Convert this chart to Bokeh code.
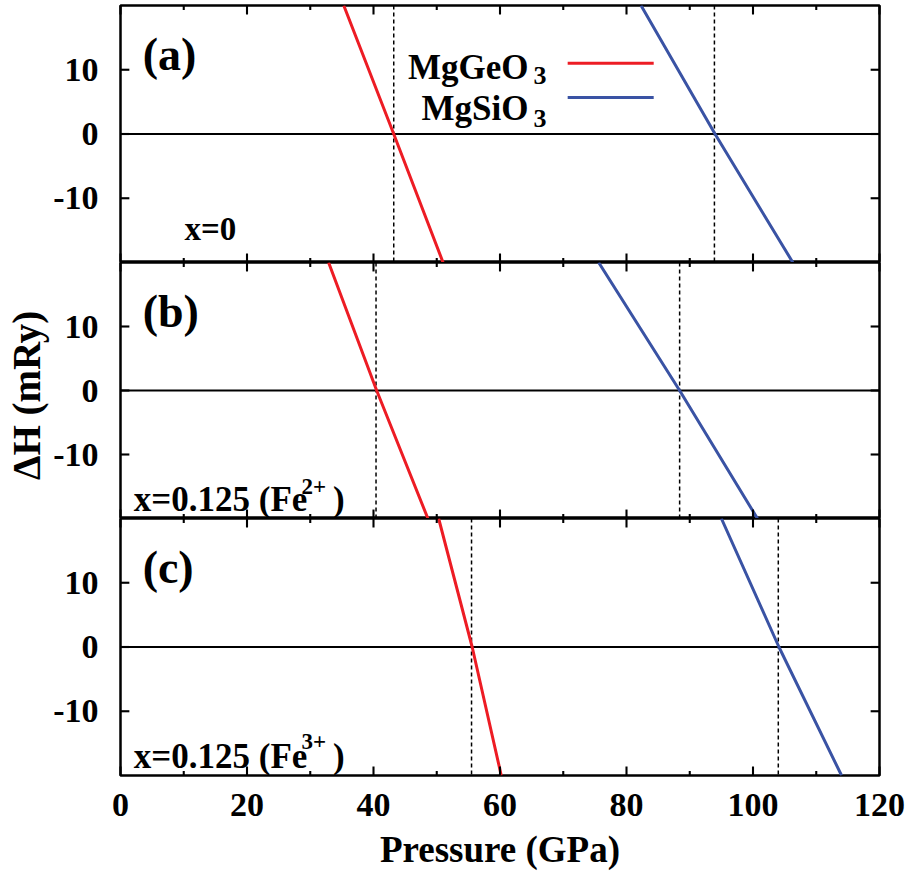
from bokeh.plotting import figure
from bokeh.layouts import column
from bokeh.models import FixedTicker, LinearAxis, Range1d, Span, Label
from bokeh.embed import file_html
from bokeh.resources import INLINE

FONT = "Liberation Serif"
RED = "#ED1C24"
BLUE = "#3A53A4"

# Enthalpy difference (mRy) at which each transition line is sampled
dh = [20, 0, -20]

# Pressure (GPa) along each line, x = 0
ge_x0 = [35.3, 43.2, 51.0]
si_x0 = [82.3, 94.0, 106.3]
# x = 0.125, Fe2+
ge_fe2 = [32.9, 40.5, 48.6]
si_fe2 = [75.6, 88.4, 100.7]
# x = 0.125, Fe3+
ge_fe3 = [50.3, 55.6, 60.2]
si_fe3 = [95.0, 104.1, 114.0]

# Transition pressures (GPa), shown as dashed verticals
pt_x0 = [43.2, 93.9]
pt_fe2 = [40.4, 88.4]
pt_fe3 = [55.5, 104.0]

x_ticks = [0, 20, 40, 60, 80, 100, 120]
x_minor = [10, 30, 50, 70, 90, 110]
y_ticks = [-10, 0, 10]
y_tick_labels = ["-10", "0", "10"]

panel_tags = ["(a)", "(b)", "(c)"]
series_names = ["MgGeO", "MgSiO"]

X_LO, X_HI = 0, 120
Y_LO, Y_HI = -20, 20
# inward tick marks drawn as thin bars, sizes in axis units
TICK_X_MAJOR, TICK_X_MINOR = 1.4, 0.7    # length, mRy
TICK_Y = 1.4                             # length, GPa
TICK_W_X = 0.33                          # thickness of vertical ticks, GPa
TICK_W_Y = 0.33                          # thickness of horizontal ticks, mRy


def style_axis(ax):
    ax.axis_line_color = None
    ax.major_tick_line_color = None
    ax.minor_tick_line_color = None
    ax.major_tick_in = 0
    ax.major_tick_out = 0
    ax.minor_tick_in = 0
    ax.minor_tick_out = 0
    ax.major_label_text_font = FONT
    ax.major_label_text_font_style = "bold"
    ax.major_label_text_font_size = "34px"
    ax.major_label_text_color = "black"


def style_title(ax, text, standoff, size):
    ax.axis_label = text
    ax.axis_label_text_font = FONT
    ax.axis_label_text_font_style = "bold"
    ax.axis_label_text_font_size = size
    ax.axis_label_text_color = "black"
    ax.axis_label_standoff = standoff


def add_ticks(p):
    # mirrored inward ticks on all four sides of the frame
    h = TICK_W_X / 2
    for ticks, length in ((x_ticks, TICK_X_MAJOR), (x_minor, TICK_X_MINOR)):
        n = len(ticks)
        left = [t - h for t in ticks]
        right = [t + h for t in ticks]
        p.quad(left=left, right=right, bottom=[Y_LO] * n, top=[Y_LO + length] * n,
               fill_color="black", line_color=None, level="overlay")
        p.quad(left=left, right=right, bottom=[Y_HI - length] * n, top=[Y_HI] * n,
               fill_color="black", line_color=None, level="overlay")
    v = TICK_W_Y / 2
    n = len(y_ticks)
    bottom = [t - v for t in y_ticks]
    top = [t + v for t in y_ticks]
    p.quad(left=[X_LO] * n, right=[X_LO + TICK_Y] * n, bottom=bottom, top=top,
           fill_color="black", line_color=None, level="overlay")
    p.quad(left=[X_HI - TICK_Y] * n, right=[X_HI] * n, bottom=bottom, top=top,
           fill_color="black", line_color=None, level="overlay")


def make_panel(ge, si, pts, tag, frame_h, first=False, last=False, ylabel=None):
    p = figure(frame_width=759, frame_height=frame_h,
               x_range=Range1d(X_LO, X_HI), y_range=Range1d(Y_LO, Y_HI),
               output_backend="svg", toolbar_location=None,
               x_axis_location=None, y_axis_location=None,
               min_border_left=120, min_border_right=37,
               min_border_top=5 if first else 0,
               min_border_bottom=99 if last else 0,
               background_fill_color="white", border_fill_color="white")
    p.grid.grid_line_color = None
    p.outline_line_color = "black"
    p.outline_line_width = 2.5

    if last:
        ax = LinearAxis(ticker=FixedTicker(ticks=x_ticks, minor_ticks=[]))
        style_axis(ax)
        ax.major_label_standoff = 18
        style_title(ax, "Pressure (GPa)", 10, "37px")
        p.add_layout(ax, "below")

    ay = LinearAxis(ticker=FixedTicker(ticks=y_ticks, minor_ticks=[]))
    style_axis(ay)
    ay.major_label_standoff = 22
    ay.major_label_overrides = dict(zip(y_ticks, y_tick_labels))
    if ylabel:
        style_title(ay, ylabel, 2, "39px")
    p.add_layout(ay, "left")

    p.add_layout(Span(location=0, dimension="width", line_color="black",
                      line_width=2, level="underlay"))
    for v in pts:
        p.add_layout(Span(location=v, dimension="height", line_color="black",
                          line_width=1.5, line_dash="4 3", level="underlay"))

    p.line(ge, dh, line_color=RED, line_width=3)
    p.line(si, dh, line_color=BLUE, line_width=3)
    add_ticks(p)

    p.add_layout(Label(x=3.5, y=12.3, text=tag, text_font=FONT,
                       text_font_style="bold", text_font_size="46px",
                       text_baseline="alphabetic", text_color="black"))
    return p


def add_text(p, x, y, text, size, align="left"):
    p.add_layout(Label(x=x, y=y, text=text, text_font=FONT, text_font_style="bold",
                       text_font_size=size, text_align=align,
                       text_baseline="alphabetic", text_color="black"))


pa = make_panel(ge_x0, si_x0, pt_x0, panel_tags[0], 257, first=True)
pb = make_panel(ge_fe2, si_fe2, pt_fe2, panel_tags[1], 256, ylabel="\u0394H  (mRy)")
pc = make_panel(ge_fe3, si_fe3, pt_fe3, panel_tags[2], 257, last=True)

# composition notes
add_text(pa, 10.1, -14.8, "x=0", "33px")
for p, sup, y_sup in ((pb, "2+", -15.0), (pc, "3+", -14.7)):
    add_text(p, 2.1, -17.0, "x=0.125 (Fe", "35px")
    add_text(p, 28.6, y_sup, sup, "23px")
    add_text(p, 33.6, -17.0, ")", "35px")

# legend in panel (a)
legend_y_text = [10.35, 3.95]
legend_y_sub = [9.1, 2.4]
legend_y_key = [11.0, 5.7]
legend_colors = [RED, BLUE]
for name, yt, ys, yk, col in zip(series_names, legend_y_text, legend_y_sub,
                                 legend_y_key, legend_colors):
    add_text(pa, 64.5, yt, name, "35px", align="right")
    add_text(pa, 65.3, ys, "3", "26px")
    pa.line([70.7, 84.3], [yk, yk], line_color=col, line_width=3)

layout = column(pa, pb, pc, spacing=0)
open("out.html", "w").write(file_html(layout, INLINE, title="Enthalpy difference vs pressure"))
